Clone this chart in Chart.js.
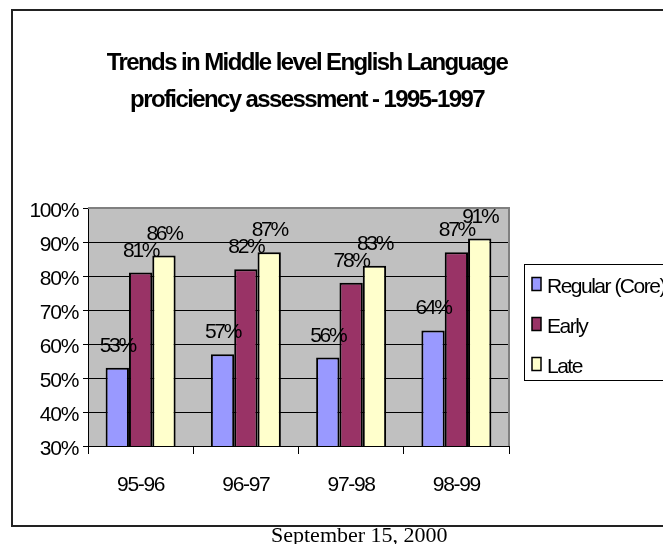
<!DOCTYPE html>
<html>
<head>
<meta charset="utf-8">
<script src="https://cdn.jsdelivr.net/npm/chart.js@4"></script>
<style>
body { margin: 0; background: #fff; }
#wrap { position: relative; width: 663px; height: 544px; overflow: hidden; }
#frame { position: absolute; left: 11px; top: 9px; width: 700px; height: 514px; border: 2px solid #222; pointer-events: none; }
#date { position: absolute; left: 271px; top: 524px; font: 22px/22px "Liberation Serif", "Times New Roman", serif; color: #000; white-space: nowrap; }
canvas { position: absolute; left: 0; top: 0; }
</style>
</head>
<body>
<div id="wrap">
  <canvas id="myChart" width="663" height="544"></canvas>
  <div id="frame"></div>
  <div id="date">September 15, 2000</div>
</div>
<script>
var categories = ['95-96', '96-97', '97-98', '98-99'];
var regular = [53, 57, 56, 64];
var early = [81, 82, 78, 87];
var late = [86, 87, 83, 91];
var titleLines = ['Trends in Middle level English Language', 'proficiency assessment - 1995-1997'];

var FONT = '"Liberation Sans", Arial, sans-serif';

// narrow the text a bit, like the original
var spacing = {
    id: 'spacing',
    beforeDraw: function(chart) { chart.ctx.letterSpacing = '-1.3px'; }
};

var plotBg = {
    id: 'plotBg',
    beforeDraw: function(chart) {
        var a = chart.chartArea, ctx = chart.ctx;
        ctx.save();
        ctx.fillStyle = '#C0C0C0';
        ctx.fillRect(a.left, a.top, a.right - a.left, a.bottom - a.top);
        ctx.restore();
    },
    afterDatasetsDraw: function(chart) {
        var a = chart.chartArea, ctx = chart.ctx;
        ctx.save();
        ctx.strokeStyle = '#808080';
        ctx.lineWidth = 2;
        ctx.beginPath();
        ctx.moveTo(a.left, a.top);
        ctx.lineTo(a.right, a.top);
        ctx.lineTo(a.right, a.bottom);
        ctx.stroke();
        ctx.restore();
    }
};

var valueLabels = {
    id: 'valueLabels',
    afterDatasetsDraw: function(chart) {
        var ctx = chart.ctx;
        ctx.save();
        ctx.font = '21px ' + FONT;
        ctx.letterSpacing = '-2.3px';
        ctx.fillStyle = '#000';
        ctx.textAlign = 'center';
        ctx.textBaseline = 'alphabetic';
        chart.data.datasets.forEach(function(ds, i) {
            chart.getDatasetMeta(i).data.forEach(function(bar, j) {
                ctx.fillText(ds.data[j] + '%', bar.x, bar.y - 16);
            });
        });
        ctx.restore();
    }
};

var titleAndLegend = {
    id: 'titleAndLegend',
    afterDraw: function(chart) {
        var ctx = chart.ctx;
        ctx.save();
        ctx.fillStyle = '#000';
        ctx.font = 'bold 24px ' + FONT;
        ctx.letterSpacing = '-1.6px';
        ctx.textAlign = 'center';
        ctx.textBaseline = 'alphabetic';
        ctx.fillText(titleLines[0], 307, 70);
        ctx.fillText(titleLines[1], 307, 107);

        // legend box
        ctx.strokeStyle = '#000';
        ctx.lineWidth = 1;
        ctx.strokeRect(524.5, 264.5, 200, 116);
        ctx.font = '21px ' + FONT;
        ctx.letterSpacing = '-1.5px';
        ctx.textAlign = 'left';
        var ys = [284, 324, 364];
        chart.data.datasets.forEach(function(ds, i) {
            ctx.fillStyle = ds.backgroundColor;
            ctx.fillRect(532, ys[i] - 6.5, 9, 13);
            ctx.lineWidth = 1.5;
            ctx.strokeRect(532, ys[i] - 6.5, 9, 13);
            ctx.fillStyle = '#000';
            ctx.fillText(ds.label, 547, ys[i] + 8.5);
        });
        ctx.restore();
    }
};

var ctx = document.getElementById('myChart').getContext('2d');

window.myChart = new Chart(ctx, {
    type: 'bar',
    data: {
        labels: categories,
        datasets: [
            { label: 'Regular (Core)', data: regular, backgroundColor: '#9999FF', borderColor: '#000', borderWidth: 2 },
            { label: 'Early', data: early, backgroundColor: '#993366', borderColor: '#000', borderWidth: 2 },
            { label: 'Late', data: late, backgroundColor: '#FFFFCC', borderColor: '#000', borderWidth: 2 }
        ]
    },
    options: {
        responsive: false,
        animation: false,
        devicePixelRatio: 1,
        layout: { padding: { left: 0, top: 208, right: 154, bottom: 0 } },
        datasets: { bar: { categoryPercentage: 0.665, barPercentage: 1 } },
        plugins: {
            legend: { display: false },
            title: { display: false },
            tooltip: { enabled: false }
        },
        scales: {
            x: {
                afterFit: function(scale) { scale.height = 98; },
                grid: { drawOnChartArea: false, color: '#000', tickLength: 8, offset: true },
                border: { color: '#000', width: 1 },
                ticks: { color: '#000', padding: 19, font: { family: FONT, size: 21 } }
            },
            y: {
                min: 30,
                max: 100,
                afterFit: function(scale) { scale.width = 88; },
                grid: { color: '#000', tickLength: 5 },
                border: { color: '#000', width: 1 },
                ticks: {
                    stepSize: 10,
                    color: '#000',
                    padding: 5,
                    labelOffset: 3,
                    font: { family: FONT, size: 21 },
                    callback: function(v) { return v + '%'; }
                }
            }
        }
    },
    plugins: [spacing, plotBg, valueLabels, titleAndLegend]
});
</script>
</body>
</html>
